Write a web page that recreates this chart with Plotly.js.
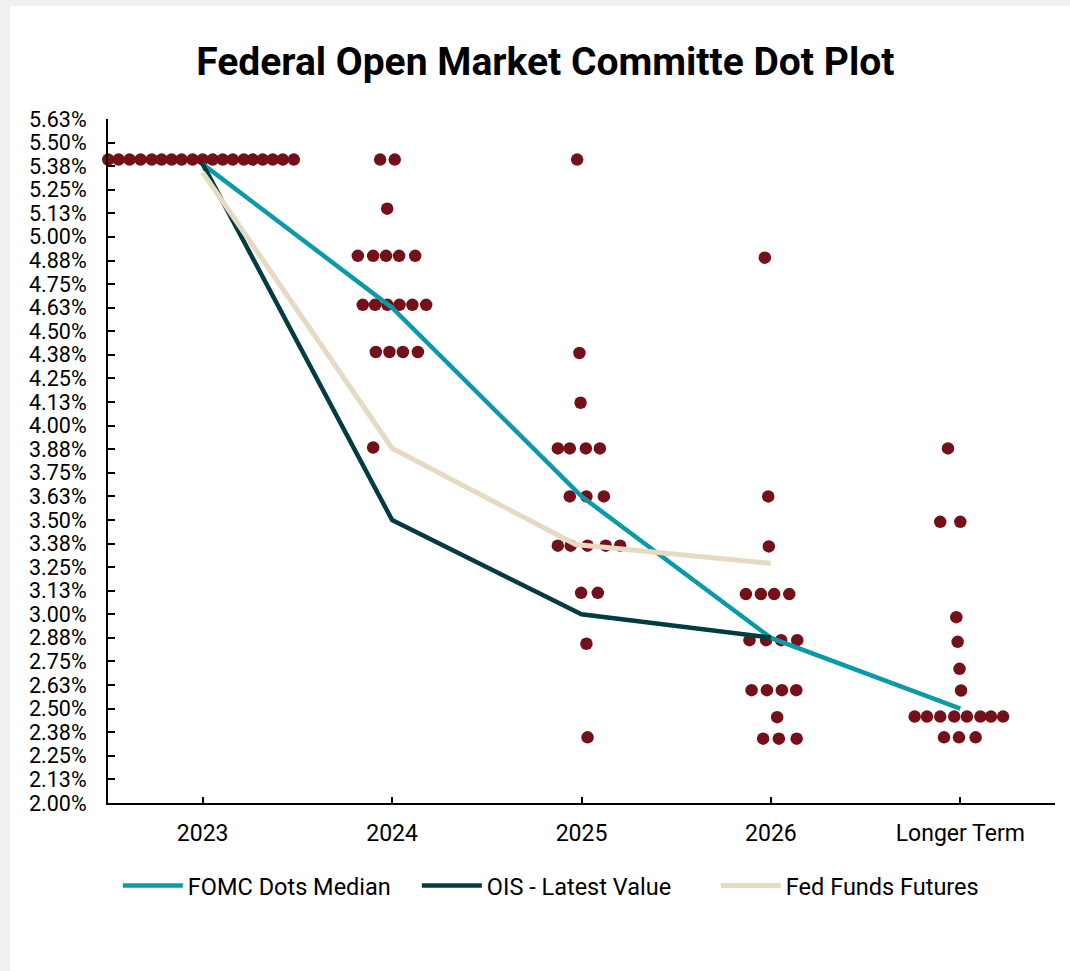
<!DOCTYPE html>
<html>
<head>
<meta charset="utf-8">
<script src="https://cdn.plot.ly/plotly-3.0.1.min.js"></script>
<style>
html,body{margin:0;padding:0;background:#f1f1f1;width:1070px;height:971px;overflow:hidden;}
#chart{position:absolute;left:10px;top:6px;width:1060px;height:965px;background:#fff;}
</style>
</head>
<body>
<div id="chart"></div>
<script>
// Categories and tick labels
const categories = ["2023", "2024", "2025", "2026", "Longer Term"];
const categoryPos = [0, 1, 2, 3, 4];
const yTickVals = [2.0, 2.125, 2.25, 2.375, 2.5, 2.625, 2.75, 2.875, 3.0, 3.125, 3.25, 3.375, 3.5, 3.625, 3.75, 3.875, 4.0, 4.125, 4.25, 4.375, 4.5, 4.625, 4.75, 4.875, 5.0, 5.125, 5.25, 5.375, 5.5, 5.625];
const yTickText = ["2.00%","2.13%","2.25%","2.38%","2.50%","2.63%","2.75%","2.88%","3.00%","3.13%","3.25%","3.38%","3.50%","3.63%","3.75%","3.88%","4.00%","4.13%","4.25%","4.38%","4.50%","4.63%","4.75%","4.88%","5.00%","5.13%","5.25%","5.38%","5.50%","5.63%"];

// Lines
const fomcMedian = [5.386, 4.625, 3.625, 2.875, 2.50];
const oisLatest = [5.386, 3.50, 3.00, 2.877, null];
const fedFundsFutures = [5.342, 3.88, 3.37, 3.27, null];
const fffX = [0, 1, 1.97, 3.0];

// FOMC participant dots (x = category position incl. spread, y = rate %)
const dots2023X = [-0.499,-0.444,-0.386,-0.328,-0.269,-0.217,-0.164,-0.111,-0.053,0,0.053,0.106,0.159,0.217,0.264,0.317,0.370,0.423,0.481];
const dots2023Y = [5.41,5.41,5.41,5.41,5.41,5.41,5.41,5.41,5.41,5.41,5.41,5.41,5.41,5.41,5.41,5.41,5.41,5.41,5.41];

const dots2024X = [0.937,1.014, 0.974, 0.819,0.900,0.968,1.037,1.122, 0.845,0.910,0.975,1.039,1.107,1.180, 0.914,0.986,1.057,1.136, 0.900];
const dots2024Y = [5.41,5.41, 5.15, 4.90,4.90,4.90,4.90,4.90, 4.64,4.64,4.64,4.64,4.64,4.64, 4.39,4.39,4.39,4.39, 3.884];

const dots2025X = [1.977, 1.989, 1.995, 1.875,1.938,2.023,2.097, 1.938,2.026,2.118, 1.875,1.943,2.032,2.128,2.204, 1.998,2.086, 2.026, 2.032];
const dots2025Y = [5.41, 4.385, 4.121, 3.879,3.879,3.879,3.879, 3.625,3.625,3.625, 3.364,3.364,3.364,3.364,3.364, 3.114,3.114, 2.844, 2.348];

const dots2026X = [2.968, 2.986, 2.989, 2.868,2.947,3.017,3.097, 2.887,2.975,3.054,3.139, 2.898,2.979,3.058,3.134, 3.033, 2.959,3.042,3.136];
const dots2026Y = [4.89, 3.625, 3.36, 3.107,3.107,3.107,3.107, 2.863,2.863,2.863,2.863, 2.598,2.598,2.598,2.598, 2.455, 2.341,2.341,2.341];

const dotsLongerX = [3.935, 3.894,4.0, 3.979, 3.986, 3.996, 4.004, 3.759,3.824,3.894,3.968,4.035,4.106,4.162,4.226, 3.914,3.993,4.081];
const dotsLongerY = [3.879, 3.49,3.49, 2.985, 2.854, 2.711, 2.596, 2.458,2.458,2.458,2.458,2.458,2.458,2.458,2.458, 2.348,2.348,2.348];

const dotColor = "#74101a";
const dotSets = [[dots2023X, dots2023Y],[dots2024X, dots2024Y],[dots2025X, dots2025Y],[dots2026X, dots2026Y],[dotsLongerX, dotsLongerY]];

const traces = [];
dotSets.forEach(function(s){
  traces.push({x: s[0], y: s[1], type: "scatter", mode: "markers", showlegend: false, hoverinfo: "y", cliponaxis: false,
    marker: {color: dotColor, size: 12.5, line: {width: 0}}});
});
traces.push({x: categoryPos, y: fomcMedian, type: "scatter", mode: "lines", name: "FOMC Dots Median", cliponaxis: false,
  line: {color: "#0c9aa8", width: 4.5}});
traces.push({x: categoryPos, y: oisLatest, type: "scatter", mode: "lines", name: "OIS - Latest Value", cliponaxis: false,
  line: {color: "#003c40", width: 4.5}});
traces.push({x: fffX, y: fedFundsFutures, type: "scatter", mode: "lines", name: "Fed Funds Futures", cliponaxis: false,
  line: {color: "#e6dac3", width: 5}});

const layout = {
  width: 1060, height: 965,
  paper_bgcolor: "#ffffff", plot_bgcolor: "#ffffff",
  margin: {l: 98, r: 15, t: 113, b: 168},
  font: {family: "Roboto, Arial, sans-serif", color: "#000", size: 20},
  title: {text: "<b>Federal Open Market Committe Dot Plot</b>", font: {family: "Roboto, Arial", size: 39, color: "#000", weight: 900},
    x: 0.505, xref: "container", xanchor: "center", y: 0.943, yref: "container", yanchor: "middle"},
  xaxis: {range: [-0.5, 4.5], tickvals: categoryPos, ticktext: categories, showgrid: false, zeroline: false,
    showline: true, linecolor: "#000", linewidth: 2, ticks: "inside", ticklen: 6, tickwidth: 2, tickcolor: "#000",
    tickfont: {size: 23}, ticklabelstandoff: 8, fixedrange: true},
  yaxis: {range: [2.0, 5.625], tickvals: yTickVals, ticktext: yTickText, showgrid: false, zeroline: false,
    showline: true, linecolor: "#000", linewidth: 2, ticks: "inside", ticklen: 7, tickwidth: 2, tickcolor: "#000",
    tickfont: {size: 21.5}, ticklabelstandoff: 15, fixedrange: true},
  legend: {orientation: "h", x: 0.484, xanchor: "center", y: -0.121, yanchor: "middle", font: {size: 23.5},
    itemwidth: 60, entrywidth: 224, traceorder: "normal", bgcolor: "rgba(0,0,0,0)"},
  showlegend: true
};

Plotly.newPlot("chart", traces, layout, {displayModeBar: false, staticPlot: true});
</script>
</body>
</html>
